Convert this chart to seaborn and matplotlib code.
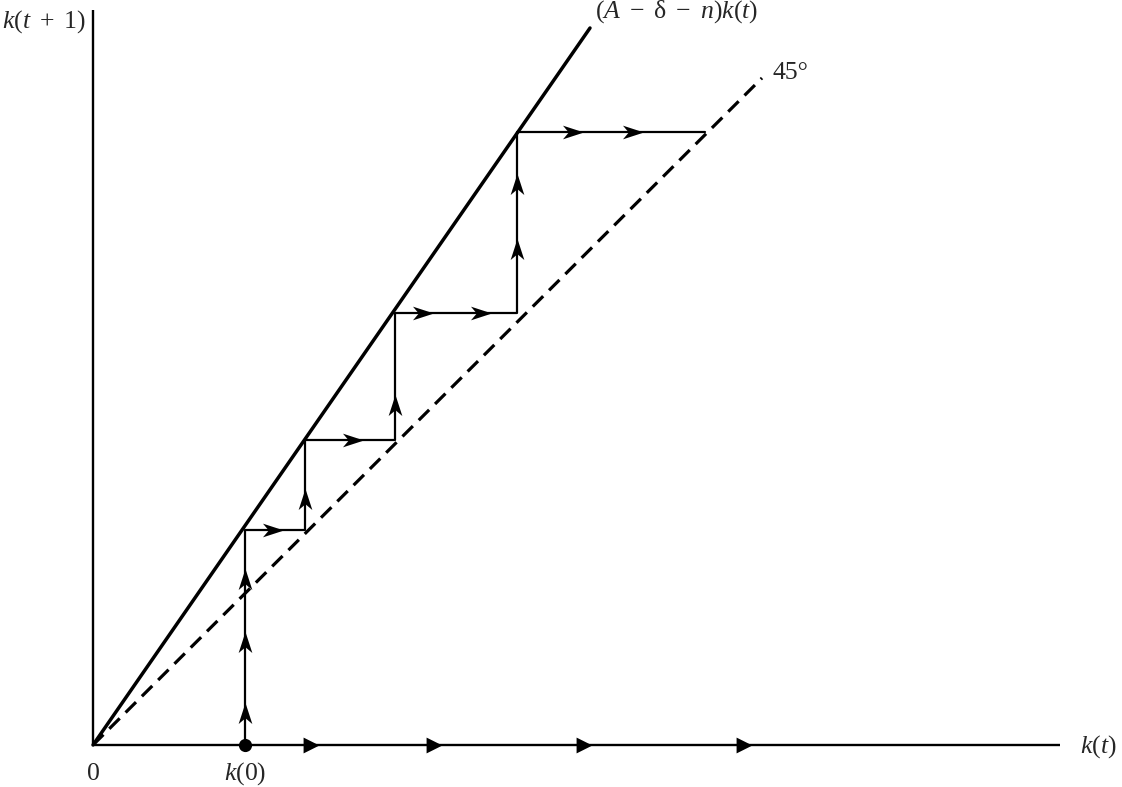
import numpy as np
import pandas as pd
import seaborn as sns
import matplotlib.pyplot as plt
from matplotlib.path import Path

# values (1 unit = 100 px, origin at the corner of the axes)
growth_x = [0.0, 4.97]          # (A - delta - n) k(t) line
growth_y = [0.0, 7.17]
diag_x = [0.0, 6.69]            # 45 degree line
diag_y = [0.0, 6.67]

path_kt = [1.52, 1.52, 2.12, 2.12, 3.02, 3.02, 4.24, 4.24, 6.12]
path_kt1 = [0.0, 2.15, 2.15, 3.05, 3.05, 4.32, 4.32, 6.13, 6.13]

k0 = 1.52
up_arrow_x = [1.52, 1.52, 1.52, 2.12, 3.02, 4.24, 4.24]
up_arrow_y = [0.32, 1.03, 1.66, 2.46, 3.40, 4.96, 5.61]
right_arrow_x = [1.80, 2.60, 3.30, 3.88, 4.80, 5.40]
right_arrow_y = [2.15, 3.05, 4.32, 4.32, 6.13, 6.13]
axis_arrow_x = [2.18, 3.41, 4.91, 6.51]

x_axis_end = 9.67
y_axis_end = 7.35

sns.set_theme(style="white")
plt.rcParams["font.family"] = ["Liberation Serif", "DejaVu Serif"]
plt.rcParams["mathtext.fontset"] = "custom"
plt.rcParams["mathtext.rm"] = "Liberation Serif"
plt.rcParams["mathtext.it"] = "Liberation Serif:italic"

fig = plt.figure(figsize=(11.22, 7.87), dpi=100)
ax = fig.add_axes([0, 0, 1, 1])
ax.set_xlim(-0.93, 10.29)
ax.set_ylim(-0.42, 7.45)
ax.axis("off")

# axes
ax.plot([0, x_axis_end], [0, 0], color="black", lw=1.7, solid_capstyle="butt")
ax.plot([0, 0], [0, y_axis_end], color="black", lw=1.7, solid_capstyle="butt")

# the two rays
sns.lineplot(x=growth_x, y=growth_y, color="black", lw=2.5, ax=ax)
sns.lineplot(x=diag_x, y=diag_y, color="black", lw=2.3, ax=ax,
             linestyle=(0, (4.6, 2.6)))

# cobweb path
web = pd.DataFrame({"kt": path_kt, "kt1": path_kt1})
sns.lineplot(data=web, x="kt", y="kt1", sort=False, estimator=None,
             color="black", lw=1.6, ax=ax)

# stealth arrow heads
stealth_right = Path([(1, 0), (-1, 0.65), (-0.45, 0), (-1, -0.65), (1, 0)],
                     [Path.MOVETO, Path.LINETO, Path.LINETO, Path.LINETO, Path.CLOSEPOLY])
stealth_up = Path([(0, 1), (0.65, -1), (0, -0.45), (-0.65, -1), (0, 1)],
                  [Path.MOVETO, Path.LINETO, Path.LINETO, Path.LINETO, Path.CLOSEPOLY])

sns.scatterplot(x=up_arrow_x, y=up_arrow_y, marker=stealth_up, s=230,
                color="black", linewidth=0, ax=ax)
sns.scatterplot(x=right_arrow_x, y=right_arrow_y, marker=stealth_right, s=230,
                color="black", linewidth=0, ax=ax)

# filled triangles on the k(t) axis and the starting point
sns.scatterplot(x=axis_arrow_x, y=[0] * len(axis_arrow_x), marker=">", s=130,
                color="black", linewidth=0, ax=ax)
sns.scatterplot(x=[k0], y=[0], marker="o", s=90, color="black", linewidth=0, ax=ax)

# labels
fs = 18.5
ax.text(-0.91, 7.23, r"$k(t\ +\ 1)$", fontsize=fs, ha="left", va="center")
ax.text(5.02, 7.33, r"$(A\ -\ \mathrm{\delta}\ -\ n)k(t)$", fontsize=fs,
        ha="left", va="center")
ax.text(6.79, 6.72, "45°", fontsize=fs, ha="left", va="center")
ax.text(9.87, -0.02, r"$k(t)$", fontsize=fs, ha="left", va="center")
ax.text(0.0, -0.29, "0", fontsize=fs, ha="center", va="center")
ax.text(k0, -0.29, r"$k(0)$", fontsize=fs, ha="center", va="center")

fig.savefig("out.png", dpi=100)
